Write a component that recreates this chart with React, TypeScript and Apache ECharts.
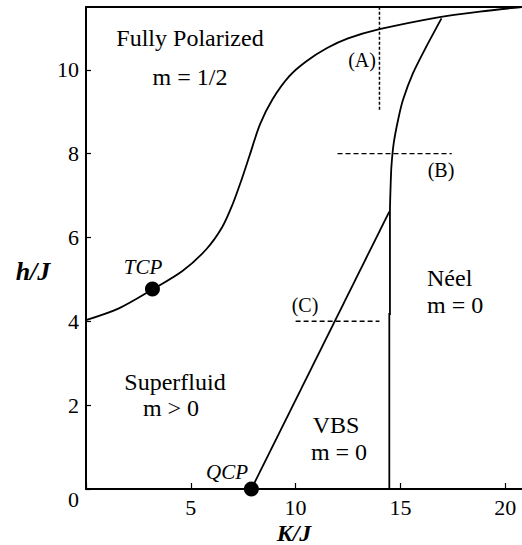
import React, { useEffect, useRef } from "react";
import * as echarts from "echarts";

// ---- data (K/J, h/J) ----
const polarizedBoundary: [number, number][] = [
  [0, 4.03], [1.57, 4.31], [3.17, 4.76], [4.6, 5.2], [5.74, 5.72], [6.5, 6.25],
  [7.0, 6.8], [7.4, 7.35], [7.8, 7.95], [8.3, 8.7], [8.9, 9.3], [9.7, 9.85],
  [10.5, 10.2], [11.5, 10.52], [12.5, 10.75], [14.0, 10.97], [16.87, 11.26],
  [18.78, 11.39], [20.8, 11.5],
];
const neelBoundary: [number, number][] = [
  [14.5, 4.15], [14.5, 6.6], [14.53, 7.2], [14.57, 7.69], [14.68, 8.25],
  [14.89, 8.81], [15.12, 9.28], [15.6, 9.92], [16.24, 10.56], [16.96, 11.23],
];
const vbsNeelBoundary: [number, number][] = [[14.47, 0], [14.47, 4.2]];
const vbsSuperfluidBoundary: [number, number][] = [[7.89, 0], [14.47, 6.62]];
const criticalPoints: [number, number][] = [[3.17, 4.77], [7.89, 0]];
const cutA: [number, number][] = [[14, 9.05], [14, 11.5]];
const cutB: [number, number][] = [[12, 8], [17.45, 8]];
const cutC: [number, number][] = [[10, 4], [14, 4]];

const xRange = { min: 0, max: 20.8, interval: 5 };
const yRange = { min: 0, max: 11.5, interval: 2 };

const SERIF = "Times New Roman, Liberation Serif, serif";

function txt(text: string, x: number, y: number, size: number, opts: any = {}) {
  return {
    type: "text",
    x,
    y,
    style: {
      text,
      fontSize: size,
      fontFamily: SERIF,
      fontStyle: opts.italic ? "italic" : "normal",
      fontWeight: opts.bold ? "bold" : "normal",
      fill: "#000",
      align: opts.align || "center",
      verticalAlign: "middle",
    },
  };
}

export default function App() {
  const ref = useRef<HTMLDivElement>(null);
  useEffect(() => {
    if (!ref.current) return;
    const chart = echarts.init(ref.current, null, { renderer: "svg" });
    const lineBase = { type: "line", symbol: "none", animation: false, silent: true };
    chart.setOption({
      animation: false,
      backgroundColor: "#fff",
      textStyle: { fontFamily: SERIF },
      grid: { left: 86, right: 0, top: 7, bottom: 56 },
      xAxis: [
        {
          type: "value",
          min: xRange.min,
          max: xRange.max,
          interval: xRange.interval,
          splitLine: { show: false },
          axisLine: { show: true, onZero: false, lineStyle: { color: "#000", width: 2 } },
          axisTick: { show: true, inside: true, length: 6, lineStyle: { color: "#000", width: 1.2 } },
          axisLabel: {
            margin: 7,
            fontSize: 22,
            fontFamily: SERIF,
            color: "#000",
            showMaxLabel: false,
            formatter: (v: number) => (v === 0 ? "" : String(v)),
          },
        },
        {
          type: "value",
          position: "top",
          min: xRange.min,
          max: xRange.max,
          splitLine: { show: false },
          axisLine: { show: true, onZero: false, lineStyle: { color: "#000", width: 2 } },
          axisTick: { show: false },
          axisLabel: { show: false },
        },
      ],
      yAxis: {
        type: "value",
        min: yRange.min,
        max: yRange.max,
        interval: yRange.interval,
        splitLine: { show: false },
        axisLine: { show: true, onZero: false, lineStyle: { color: "#000", width: 2 } },
        axisTick: { show: true, inside: true, length: 5, lineStyle: { color: "#000", width: 1.2 } },
        axisLabel: {
          margin: 7,
          fontSize: 22,
          fontFamily: SERIF,
          color: "#000",
          showMaxLabel: false,
          formatter: (v: number) => (v === 0 ? "{z|0}" : v > 10 ? "" : String(v)),
          rich: { z: { fontSize: 22, fontFamily: SERIF, color: "#000", padding: [20, 0, 0, 0] } },
        },
      },
      series: [
        { ...lineBase, data: polarizedBoundary, smooth: 0.3, lineStyle: { color: "#000", width: 1.8 } },
        { ...lineBase, data: neelBoundary, smooth: 0.25, lineStyle: { color: "#000", width: 1.8 } },
        { ...lineBase, data: vbsNeelBoundary, lineStyle: { color: "#000", width: 1.8 } },
        { ...lineBase, data: vbsSuperfluidBoundary, lineStyle: { color: "#000", width: 1.8 } },
        { ...lineBase, data: cutA, lineStyle: { color: "#000", width: 1.5, type: [3, 2] } },
        { ...lineBase, data: cutB, lineStyle: { color: "#000", width: 1.3, type: [5, 3] } },
        { ...lineBase, data: cutC, lineStyle: { color: "#000", width: 1.5, type: [5, 3] } },
        {
          type: "scatter",
          data: criticalPoints,
          symbol: "circle",
          symbolSize: 15,
          clip: false,
          itemStyle: { color: "#000", opacity: 1 },
          silent: true,
          z: 5,
        },
      ],
      graphic: [
        txt("Fully Polarized", 190, 38, 24),
        txt("m = 1/2", 190, 77, 24),
        txt("(A)", 362, 60, 20),
        txt("(B)", 441, 170, 20),
        txt("(C)", 305, 305, 20),
        txt("Néel", 427, 278, 24, { align: "left" }),
        txt("m = 0", 427, 305, 24, { align: "left" }),
        txt("VBS", 336, 425, 24),
        txt("m = 0", 339, 452, 24),
        txt("Superfluid", 175, 382, 24),
        txt("m > 0", 171, 408, 24),
        txt("TCP", 143, 267, 21, { italic: true }),
        txt("QCP", 227, 472, 21, { italic: true }),
        txt("h/J", 33, 271, 26, { italic: true, bold: true }),
        txt("K/J", 294, 533, 24, { italic: true, bold: true }),
      ],
    });
    return () => chart.dispose();
  }, []);
  return (
    <div
      ref={ref}
      style={{ position: "fixed", left: 0, top: 0, width: 522, height: 545, background: "#fff" }}
    />
  );
}
